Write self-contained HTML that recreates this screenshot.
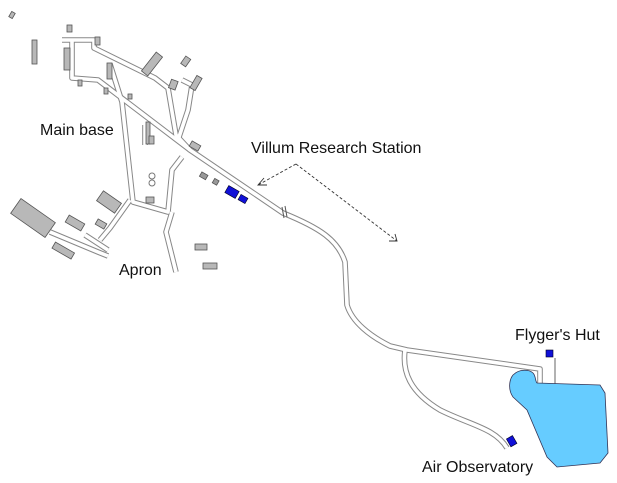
<!DOCTYPE html>
<html><head><meta charset="utf-8"><style>
html,body{margin:0;padding:0;background:#fff;}
svg{display:block}
text{font-family:"Liberation Sans",Arial,sans-serif;font-size:16px;fill:#111}
</style></head><body>
<svg width="617" height="483" viewBox="0 0 617 483" xmlns="http://www.w3.org/2000/svg">
<g fill="none" stroke-linejoin="round" stroke-linecap="butt">
<g stroke="#888" stroke-width="5.6">
<path d="M62,40 H94 V48 L155,78 L168,88 L176,135 L190,150 L283,213 C320,228 338,240 345,262 L347,305 C352,322 370,336 390,346 L407,350 L540,369 V388"/>
<path d="M72,40 V78 L98,80 L190,150"/>
<path d="M110,64 L122,102 L133,202 L168,212 L172,170 L182,157"/>
<path d="M178,140 L188,110 L192,85 L182,80"/>
<path d="M145,125 V145"/>
<path d="M172,212 L166,232 L176,272"/>
<path d="M130,200 L110,228 L100,240"/>
<path d="M50,232 L98,252 L108,256"/>
<path d="M85,235 L108,250"/>
<path d="M405,350 C402,372 410,392 440,410 C470,425 495,428 507,448"/>
</g>
<g stroke="#fff" stroke-width="3.6">
<path d="M62,40 H94 V48 L155,78 L168,88 L176,135 L190,150 L283,213 C320,228 338,240 345,262 L347,305 C352,322 370,336 390,346 L407,350 L540,369 V388"/>
<path d="M72,40 V78 L98,80 L190,150"/>
<path d="M110,64 L122,102 L133,202 L168,212 L172,170 L182,157"/>
<path d="M178,140 L188,110 L192,85 L182,80"/>
<path d="M145,125 V145"/>
<path d="M172,212 L166,232 L176,272"/>
<path d="M130,200 L110,228 L100,240"/>
<path d="M50,232 L98,252 L108,256"/>
<path d="M85,235 L108,250"/>
<path d="M405,350 C402,372 410,392 440,410 C470,425 495,428 507,448"/>
</g>
<path d="M555,358 V387" stroke="#666" stroke-width="1"/>
</g>
<path d="M282,207 L284,218 M285,206 L287,217" stroke="#555" stroke-width="1"/>
<g fill="#b8b8b8" stroke="#555" stroke-width="0.8">
<rect x="10" y="12" width="4" height="6" transform="rotate(30 12 15)"/>
<rect x="32" y="40" width="5" height="24"/>
<rect x="64" y="48" width="6" height="22"/>
<rect x="67" y="25" width="5" height="7"/>
<rect x="95" y="37" width="5" height="8"/>
<rect x="78" y="80" width="4" height="6"/>
<rect x="104" y="88" width="4" height="6"/>
<rect x="128" y="94" width="4" height="5"/>
<rect x="107" y="63" width="5" height="16"/>
<rect x="148" y="52" width="8" height="24" transform="rotate(38 152 64)"/>
<rect x="183" y="57" width="6" height="9" transform="rotate(35 186 61)"/>
<rect x="193" y="76" width="6" height="14" transform="rotate(30 196 83)"/>
<rect x="170" y="80" width="7" height="9" transform="rotate(20 173 84)"/>
<rect x="146" y="122" width="4" height="22"/>
<rect x="149" y="136" width="5" height="8"/>
<rect x="190" y="143" width="10" height="6" transform="rotate(30 195 146)"/>
<rect x="200" y="173" width="7" height="5" transform="rotate(30 203 176)" fill="#999"/>
<rect x="213" y="179" width="5" height="5" transform="rotate(30 215 182)" fill="#999"/>
<rect x="146" y="197" width="8" height="6"/>
<rect x="98" y="196" width="22" height="12" transform="rotate(35 109 202)"/>
<rect x="12" y="209" width="42" height="18" transform="rotate(35 33 218)"/>
<rect x="66" y="219" width="18" height="8" transform="rotate(30 75 223)"/>
<rect x="96" y="221" width="10" height="6" transform="rotate(30 101 224)"/>
<rect x="52" y="247" width="22" height="7" transform="rotate(30 63 251)"/>
<rect x="195" y="244" width="12" height="6"/>
<rect x="203" y="263" width="14" height="6"/>
</g>
<circle cx="152" cy="176" r="3" fill="#fff" stroke="#777"/>
<circle cx="152" cy="183" r="3" fill="#fff" stroke="#777"/>
<g fill="#1010d8" stroke="#002" stroke-width="0.6">
<rect x="226" y="188" width="12" height="8" transform="rotate(30 232 192)"/>
<rect x="239" y="196" width="8" height="6" transform="rotate(30 243 199)"/>
<rect x="546" y="350" width="7" height="7"/>
<rect x="508" y="437" width="7" height="9" transform="rotate(-30 511 441)"/>
</g>
<path d="M513,375 C520,368 530,370 533,373 C536,376 535,381 537,383 L600,385 L605,393 L608,453 L600,463 L557,467 L547,457 L527,410 L513,397 C508,390 509,380 513,375 Z" fill="#66ccff" stroke="#335" stroke-width="0.8"/>
<g stroke="#333" stroke-width="0.9" stroke-dasharray="3,2" fill="none">
<path d="M296,164 L258,185"/>
<path d="M296,164 L397,241"/>
</g>
<g stroke="#333" stroke-width="0.9" fill="none">
<path d="M264,178 L258,185 L267,185"/>
<path d="M389,241 L397,241 L395,234"/>
</g>
<text x="40" y="135">Main base</text>
<text x="251" y="153">Villum Research Station</text>
<text x="119" y="275">Apron</text>
<text x="515" y="340">Flyger's Hut</text>
<text x="422" y="472">Air Observatory</text>
</svg>
</body></html>
